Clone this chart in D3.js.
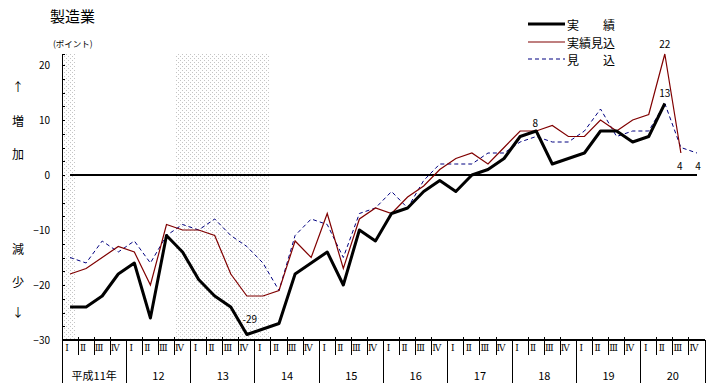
<!DOCTYPE html>
<html><head><meta charset="utf-8">
<script src="https://cdn.jsdelivr.net/npm/d3@7"></script>
<style>body{margin:0;background:#fff} svg{display:block}</style>
</head><body>
<script>
// ---- data ----
const years = ["平成11年","12","13","14","15","16","17","18","19","20"];
const quarterLabels = ["Ⅰ","Ⅱ","Ⅲ","Ⅳ"];
// 実績 (actual)
const actual = [-24,-24,-22,-18,-16,-26,-11,-14,-19,-22,-24,-29,-28,-27,-18,-16,-14,-20,-10,-12,-7,-6,-3,-1,-3,0,1,3,7,8,2,3,4,8,8,6,7,13];
// 実績見込 (estimated actual)
const estimateActual = [-18,-17,-15,-13,-14,-20,-9,-10,-10,-11,-18,-22,-22,-21,-12,-15,-7,-17,-8,-6,-7,-4,-2,1,3,4,2,5,8,8,9,7,7,10,8,10,11,22,4];
// 見込 (forecast)
const forecast = [-15,-16,-12,-14,-12,-16,-11,-9,-10,-8,-11,-13,-16,-21,-11,-8,-9,-15,-7,-6,-3,-6,-1,2,2,2,4,4,6,7,6,6,8,12,7,8,8,13,5,4];
const yTicks = [-30,-20,-10,0,10,20];
// shaded (recession) periods in quarter units from 1999 Q1
const recessions = [[0,0.9],[7,12.85]];
// labelled points: series, quarter index
const annotations = [
  {s:"actual", i:11, dx:3, dy:-16},
  {s:"actual", i:29, dx:-1, dy:-9},
  {s:"actual", i:37, dx:0, dy:-11},
  {s:"estimateActual", i:37, dx:0, dy:-11},
  {s:"estimateActual", i:38, dx:-1, dy:12},
  {s:"forecast", i:39, dx:1, dy:12}
];

const W = 717, H = 392;
const svg = d3.select("body").append("svg").attr("width", W).attr("height", H);
const jp = "'Noto Sans CJK JP','Noto Sans',sans-serif";

const nQ = years.length * 4;
const x = d3.scaleLinear().domain([0, nQ]).range([62, 705]);
const y = d3.scaleLinear().domain([-30, 22]).range([340, 54]);
const cx = i => x(i + 0.5);

// pattern
const defs = svg.append("defs");
const pat = defs.append("pattern").attr("id","dots").attr("patternUnits","userSpaceOnUse")
  .attr("width",4).attr("height",4);
pat.append("rect").attr("x",0).attr("y",0).attr("width",1).attr("height",1).attr("fill","#c4c4c4");
pat.append("rect").attr("x",2).attr("y",2).attr("width",1).attr("height",1).attr("fill","#c4c4c4");

svg.selectAll("rect.shade").data(recessions).join("rect").attr("class","shade")
  .attr("x", d => x(d[0])).attr("width", d => x(d[1]) - x(d[0]))
  .attr("y", y(22)).attr("height", y(-30) - y(22))
  .attr("fill","url(#dots)").attr("shape-rendering","crispEdges");

// y axis ticks (inward)
const yAxisG = svg.append("g").attr("transform", `translate(${x(0)},0)`)
  .call(d3.axisRight(y).tickValues(d3.range(-30, 21, 2.5)).tickSize(3).tickSizeOuter(3).tickFormat(""));
yAxisG.select(".domain").attr("stroke","#000").attr("stroke-width",1.5);
yAxisG.selectAll(".tick line").attr("stroke","#000");
yAxisG.attr("shape-rendering","crispEdges");

// y labels
const yLab = svg.append("g").attr("transform", `translate(${x(0)},0)`)
  .call(d3.axisLeft(y).tickValues(yTicks).tickSize(0).tickPadding(12).tickFormat(d3.format("d")));
yLab.select(".domain").remove();
yLab.selectAll("text").attr("font-family", jp).attr("font-size", 10).attr("fill","#000");

// x axis
const xg = svg.append("g").attr("shape-rendering","crispEdges");
xg.append("line").attr("x1", x(0)).attr("x2", x(nQ)).attr("y1", y(-30)).attr("y2", y(-30))
  .attr("stroke","#000").attr("stroke-width",1.5);
xg.selectAll("line.q").data(d3.range(0, nQ + 1)).join("line").attr("class","q")
  .attr("x1", d => x(d)).attr("x2", d => x(d))
  .attr("y1", d => d % 4 === 0 ? y(-30) : y(-30) - 3)
  .attr("y2", d => d % 4 === 0 ? 383 : 355)
  .attr("stroke","#000").attr("stroke-width",1);
svg.selectAll("text.ql").data(d3.range(0, nQ)).join("text").attr("class","ql")
  .attr("x", d => x(d) + 5).attr("y", 351)
  .attr("text-anchor","middle").attr("font-family", "'DejaVu Serif','Liberation Serif',serif")
  .attr("font-size", 9).attr("fill","#000")
  .text(d => quarterLabels[d % 4]);
svg.selectAll("text.yr").data(years).join("text").attr("class","yr")
  .attr("x", (d,i) => x(i*4 + 2)).attr("y", 380)
  .attr("text-anchor","middle").attr("font-family", jp).attr("font-size", 11)
  .text(d => d);

// zero line
svg.append("line").attr("x1", cx(0)).attr("x2", cx(nQ - 1)).attr("y1", y(0)).attr("y2", y(0))
  .attr("stroke","#000").attr("stroke-width",1.5).attr("shape-rendering","crispEdges");

// lines
const line = d3.line().x((d,i) => cx(i)).y(d => y(d));
svg.append("path").datum(forecast).attr("d", line).attr("fill","none")
  .attr("stroke","#000080").attr("stroke-width",1).attr("stroke-dasharray","4,3");
svg.append("path").datum(estimateActual).attr("d", line).attr("fill","none")
  .attr("stroke","#800000").attr("stroke-width",1.2);
svg.append("path").datum(actual).attr("d", line).attr("fill","none")
  .attr("stroke","#000").attr("stroke-width",3).attr("stroke-linejoin","round");

// annotations
const seriesMap = {actual, estimateActual, forecast};
svg.selectAll("text.ann").data(annotations).join("text").attr("class","ann")
  .attr("x", d => cx(d.i) + d.dx).attr("y", d => y(seriesMap[d.s][d.i]) + d.dy)
  .attr("dominant-baseline","central").attr("text-anchor","middle")
  .attr("font-family", jp).attr("font-size", 10)
  .text(d => seriesMap[d.s][d.i]);

// titles
svg.append("text").attr("x", 50).attr("y", 22).attr("font-family", jp).attr("font-size", 15).text("製造業");
svg.append("text").attr("x", 53).attr("y", 47).attr("font-family", jp).attr("font-size", 8.5).text("(ポイント)");
const sideLabels = [["↑",86],["増",120],["加",153],["減",248],["少",281],["↓",311]];
svg.selectAll("text.side").data(sideLabels).join("text").attr("class","side")
  .attr("x", 18).attr("y", d => d[1]).attr("text-anchor","middle").attr("dominant-baseline","central")
  .attr("font-family", jp).attr("font-size", 12).text(d => d[0]);

// legend
const legend = [
  {name:"実　　績", color:"#000", w:3, dash:null, y:24},
  {name:"実績見込", color:"#800000", w:1.2, dash:null, y:42},
  {name:"見　　込", color:"#000080", w:1, dash:"4,3", y:59}
];
const lg = svg.selectAll("g.lg").data(legend).join("g").attr("class","lg");
lg.append("line").attr("x1",528).attr("x2",565).attr("y1",d=>d.y).attr("y2",d=>d.y)
  .attr("stroke",d=>d.color).attr("stroke-width",d=>d.w).attr("stroke-dasharray",d=>d.dash);
lg.append("text").attr("x",567).attr("y",d=>d.y).attr("dominant-baseline","central")
  .attr("font-family", jp).attr("font-size", 12).text(d=>d.name);
</script>
</body></html>
